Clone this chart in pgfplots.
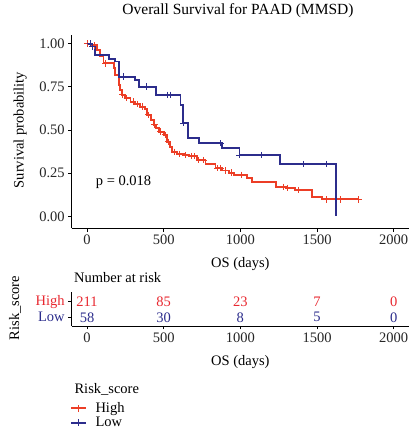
\documentclass[border=0pt]{standalone}
\usepackage{pgfplots}
\pgfplotsset{compat=1.18}
\usepackage{fontspec}
\setmainfont{Liberation Serif}
\definecolor{rd}{RGB}{236,62,38}
\definecolor{bl}{RGB}{44,45,140}
\definecolor{rdt}{RGB}{232,40,48}
\begin{document}
\begin{tikzpicture}[x=1pt,y=1pt]
\path[use as bounding box] (0,0) rectangle (410,434);
\begin{axis}[
  at={(71.7pt,205.7pt)}, anchor=south west, scale only axis,
  width=337.3pt, height=193.3pt,
  xmin=-100, xmax=2100, ymin=-0.0695, ymax=1.05,
  axis x line*=bottom, axis y line*=left,
  axis line style={line width=0.6pt, -},
  tick align=outside, tick style={black, line width=0.6pt, major tick length=3.5pt},
  xtick={0,500,1000,1500,2000}, ytick={0,0.25,0.5,0.75,1},
  yticklabels={0.00,0.25,0.50,0.75,1.00},
  /pgf/number format/assume math mode=true,
  scaled x ticks=false,
  xticklabel style={/pgf/number format/1000 sep={}},
  ticklabel style={font=\fontsize{14.5}{16}\selectfont, text=black!85},
  label style={font=\fontsize{14.5}{16}\selectfont},
  xlabel={OS (days)},
  xlabel style={at={(axis description cs:0.5,-0.186)}, anchor=center},
  ylabel={Survival probability},
  ylabel style={at={(axis description cs:-0.153,0.508)}, anchor=center},
  title={Overall Survival for PAAD (MMSD)},
  title style={at={(axis description cs:0.493,1.093)}, anchor=center, font=\fontsize{15.5}{17}\selectfont},
  clip=false,
  legend style={at={(axis description cs:-0.005,-0.893)}, anchor=north west, draw=none, fill=none,
    font=\fontsize{14.5}{16}\selectfont, inner xsep=0pt, inner ysep=0pt, row sep=0pt, nodes={inner sep=1.5pt}},
  legend cell align=left,
  legend image code/.code={\draw[mark repeat=2,mark phase=2] plot coordinates {(0pt,0pt)(7.5pt,0pt)(15pt,0pt)};\path (22pt,0pt);},
]
\addlegendimage{rd, line width=1.8pt, mark=+, mark size=3.2pt, mark options={line width=1pt}}
\addlegendentry{High}
\addlegendimage{bl, line width=1.8pt, mark=+, mark size=3.2pt, mark options={line width=1pt}}
\addlegendentry{Low}
% High
\addplot[const plot, rd, line width=1.8pt, mark=none, forget plot] coordinates {
(0,1.0)(30,0.99)(65,0.964)(87,0.925)(108,0.886)(174,0.857)(185,0.818)(206,0.761)
(217,0.732)(228,0.703)(250,0.684)(283,0.664)(315,0.650)(348,0.635)(380,0.620)
(391,0.587)(415,0.56)(435,0.529)(450,0.51)(467,0.49)(500,0.471)(522,0.432)
(543,0.403)(554,0.374)(587,0.361)(630,0.355)(663,0.349)(717,0.326)(773,0.303)
(838,0.278)(880,0.265)(924,0.253)(960,0.24)(1043,0.220)(1076,0.200)(1235,0.171)
(1300,0.165)(1359,0.152)(1467,0.114)(1532,0.098)(1776,0.098)};
% Low
\addplot[const plot, bl, line width=1.8pt, mark=none, forget plot] coordinates {
(0,1.0)(33,0.983)(54,0.935)(141,0.911)(185,0.896)(206,0.809)(315,0.79)(337,0.751)
(452,0.703)(609,0.644)(626,0.539)(656,0.452)(728,0.423)(880,0.394)(995,0.355)
(1261,0.303)(1624,0.303)(1624,0.0)};
% censor marks High
\addplot[only marks, mark=+, rd, mark size=3.2pt, line width=1pt, forget plot] coordinates {
(0,1.0)(50,0.99)(120,0.886)(230,0.703)(260,0.684)(300,0.664)(330,0.650)(365,0.635)
(400,0.587)(440,0.529)(480,0.49)(510,0.471)(530,0.432)(570,0.374)(600,0.361)(640,0.355)
(680,0.349)(700,0.349)(730,0.326)(760,0.326)(850,0.278)(870,0.278)(900,0.265)(940,0.253)
(1010,0.24)(1280,0.171)(1305,0.165)(1380,0.152)(1561,0.098)(1652,0.098)(1770,0.098)};
% censor marks Low
\addplot[only marks, mark=+, bl, mark size=3.2pt, line width=1pt, forget plot] coordinates {
(20,1.0)(33,0.983)(239,0.809)(391,0.751)(522,0.703)(543,0.703)(628,0.539)(870,0.423)
(995,0.355)(1141,0.355)(1413,0.303)(1565,0.303)};
\node[anchor=west, font=\fontsize{14.5}{16}\selectfont] at (axis cs:35,0.20) {p = 0.018};
\node[anchor=west, font=\fontsize{14.5}{16}\selectfont] at (axis description cs:-0.002,-0.831) {Risk\_score};
\end{axis}
% risk table
\begin{axis}[
  at={(71.7pt,108pt)}, anchor=south west, scale only axis,
  width=337.3pt, height=34.3pt,
  xmin=-100, xmax=2100, ymin=0.44, ymax=2.64,
  axis x line*=bottom, axis y line*=left,
  axis line style={line width=0.6pt, -},
  tick align=outside, tick style={black, line width=0.6pt, major tick length=3.5pt},
  xtick={0,500,1000,1500,2000}, ytick={1,2},
  yticklabels={\textcolor{bl}{Low},\textcolor{rdt}{High}},
  /pgf/number format/assume math mode=true,
  scaled x ticks=false,
  xticklabel style={/pgf/number format/1000 sep={}},
  ticklabel style={font=\fontsize{14.5}{16}\selectfont, text=black!85},
  label style={font=\fontsize{14.5}{16}\selectfont},
  xlabel={OS (days)},
  xlabel style={at={(axis description cs:0.5,-1.05)}, anchor=center},
  ylabel={Risk\_score},
  ylabel style={at={(axis description cs:-0.168,0.525)}, anchor=center},
  clip=false,
]
\addplot[draw=none, mark=none, nodes near coords, point meta=explicit symbolic,
  nodes near coords style={anchor=center, text=rdt, font=\fontsize{14.5}{16}\selectfont}]
  coordinates {(0,2)[211] (500,2)[85] (1000,2)[23] (1500,2)[7] (2000,2)[0]};
\addplot[draw=none, mark=none, nodes near coords, point meta=explicit symbolic,
  nodes near coords style={anchor=center, text=bl, font=\fontsize{14.5}{16}\selectfont}]
  coordinates {(0,1)[58] (500,1)[30] (1000,1)[8] (1500,1)[5] (2000,1)[0]};
\node[anchor=west, font=\fontsize{14.5}{16}\selectfont] at (axis description cs:-0.003,1.40) {Number at risk};
\end{axis}
\end{tikzpicture}
\end{document}
